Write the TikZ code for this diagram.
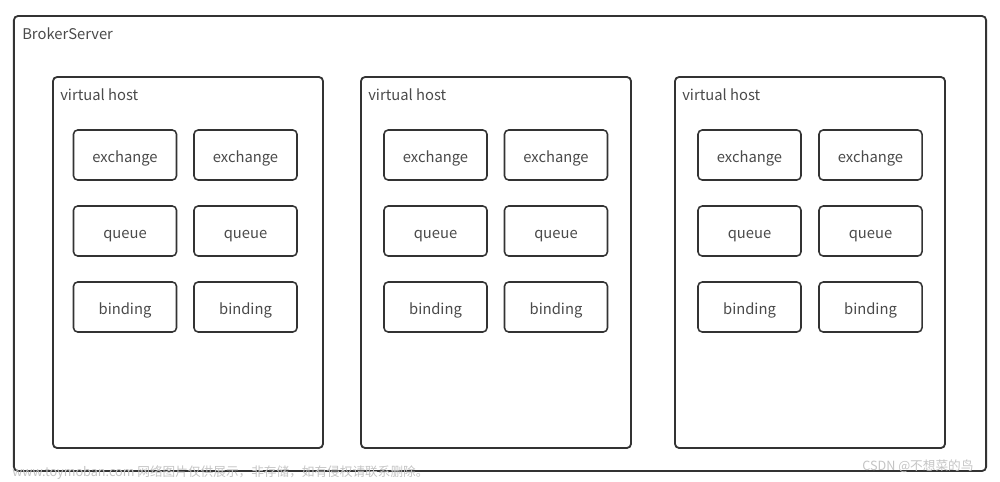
\documentclass[tikz,border=0pt]{standalone}
\usepackage{fontspec}
\setmainfont{Noto Sans CJK SC}
\definecolor{boxline}{HTML}{333333}
\definecolor{boxtext}{HTML}{4A4A4A}
\definecolor{marktext}{HTML}{C4C4C4}
\tikzset{
  server/.style={draw=boxline,line width=1.3pt,rounded corners=3pt,minimum width=24.3cm,minimum height=11.375cm,inner sep=0pt},
  vhost/.style={draw=boxline,line width=1.3pt,rounded corners=3pt,minimum width=6.75cm,minimum height=9.275cm,inner sep=0pt},
  part/.style={draw=boxline,line width=1.1pt,rounded corners=3pt,minimum width=2.575cm,minimum height=1.25cm,inner sep=0pt,text height=10.5pt,text depth=0pt,text=boxtext,font=\fontsize{10.5}{12}\selectfont},
  title/.style={anchor=west,inner sep=0pt,text=boxtext,font=\fontsize{10.5}{12}\selectfont},
  watermark/.style={anchor=west,inner sep=0pt,text=marktext,font=\fontsize{9}{11}\selectfont}
}
\begin{document}
\begin{tikzpicture}[x=0.025cm,y=-0.025cm]
\useasboundingbox (0,0) rectangle (1000,481);
% outer server
\node[server] (broker) at (500,243.5) {};
\node[title] (brokerlabel) at (22,34) {BrokerServer};

% first virtual host
\node[vhost] (hostA) at (188,262.5) {};
\node[title] (hostAlabel) at (60,95) {virtual host};
\node[part] (hostAex1) at (125,155) {exchange};
\node[part] (hostAex2) at (245.5,155) {exchange};
\node[part] (hostAq1) at (125,231) {queue};
\node[part] (hostAq2) at (245.5,231) {queue};
\node[part] (hostAb1) at (125,307) {binding};
\node[part] (hostAb2) at (245.5,307) {binding};

% second virtual host
\node[vhost] (hostB) at (496,262.5) {};
\node[title] (hostBlabel) at (368,95) {virtual host};
\node[part] (hostBex1) at (435.5,155) {exchange};
\node[part] (hostBex2) at (556,155) {exchange};
\node[part] (hostBq1) at (435.5,231) {queue};
\node[part] (hostBq2) at (556,231) {queue};
\node[part] (hostBb1) at (435.5,307) {binding};
\node[part] (hostBb2) at (556,307) {binding};

% third virtual host
\node[vhost] (hostC) at (810,262.5) {};
\node[title] (hostClabel) at (682,95) {virtual host};
\node[part] (hostCex1) at (749.5,155) {exchange};
\node[part] (hostCex2) at (870.5,155) {exchange};
\node[part] (hostCq1) at (749.5,231) {queue};
\node[part] (hostCq2) at (870.5,231) {queue};
\node[part] (hostCb1) at (749.5,307) {binding};
\node[part] (hostCb2) at (870.5,307) {binding};

% watermarks
\node[watermark] (markleft) at (12,473) {www.toymoban.com 网络图片仅供展示，非存储，如有侵权请联系删除。};
\node[watermark] (markright) at (862,466) {CSDN @不想菜的鸟};
\end{tikzpicture}
\end{document}
